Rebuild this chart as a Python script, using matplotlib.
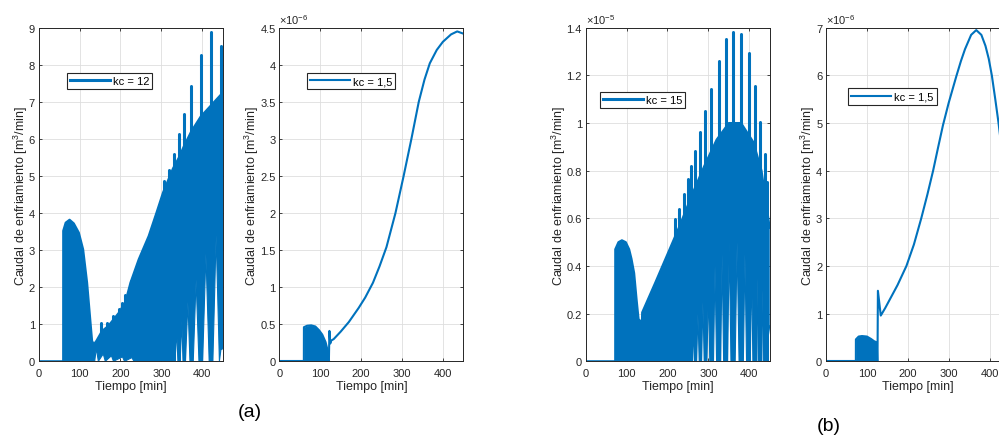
import numpy as np
import matplotlib
matplotlib.use("Agg")
import matplotlib.pyplot as plt
from matplotlib.ticker import FixedLocator, FuncFormatter

plt.rcParams['font.family'] = ['Liberation Sans', 'DejaVu Sans']
plt.rcParams['mathtext.fontset'] = 'custom'
plt.rcParams['mathtext.rm'] = 'Liberation Sans'
plt.rcParams['mathtext.it'] = 'Liberation Sans:italic'
plt.rcParams['mathtext.bf'] = 'Liberation Sans:bold'

BLUE = '#0072BD'
DARK = '#262626'

# ---------------- data ----------------
x_ticks = [0, 100, 200, 300, 400]
x_label = 'Tiempo [min]'
y_label = 'Caudal de enfriamiento [m$^3$/min]'

# (a) left : kc = 12   (units: m3/min)
a1_label = 'kc = 12'
a1_t_top = [0, 59.9, 60, 66, 75.6, 86, 98.3, 108.8, 118.5, 126.8, 130.7, 134.9, 141, 155, 170,
            196, 212, 224.4, 244.6, 269, 287.8, 304, 328.3, 343, 355, 373, 396, 421, 446, 450]
a1_top = [0, 0, 3.52, 3.74, 3.82, 3.72, 3.47, 3.02, 2.12, 1.05, 0.55, 0.46, 0.55, 0.82, 0.95,
          1.31, 1.6, 2.12, 2.75, 3.38, 4.0, 4.55, 5.2, 5.5, 5.8, 6.2, 6.6, 6.9, 7.2, 7.2]
a1_t_low = [0, 134.9, 137, 141, 146, 158, 163, 178, 183, 205, 210, 228, 233,
            333.5, 337.5, 340.5, 346, 350, 353, 359, 365, 370, 378, 385, 392,
            401, 409, 417, 426, 434, 442, 446.3, 450]
a1_low = [0, 0, 0, 0.35, 0, 0.2, 0, 0.15, 0, 0.12, 0, 0.1, 0,
          0, 0.85, 0, 0, 1.1, 0, 0, 1.6, 0, 0, 2.2, 0,
          0, 2.9, 0, 0, 3.4, 0, 0.37, 2.0]
a1_spk_t = [152.7, 167.3, 181.2, 195.9, 203.9, 212.2, 226, 306.3, 318.5, 330.7, 343, 355.1,
            373.2, 395.9, 421, 446.3]
a1_spk_peak = [1.04, 1.04, 1.22, 1.40, 1.58, 1.80, 2.16, 4.86, 5.17, 5.58, 6.12, 6.66,
               7.42, 8.27, 8.88, 8.52]
a1_spk_base = [0.6, 0.7, 0.9, 1.1, 1.3, 1.4, 1.8, 0, 0, 0, 0, 0, 0, 0, 0, 0.37]
a1_yticks = [0, 1, 2, 3, 4, 5, 6, 7, 8, 9]

# (a) right : kc = 1,5   (units: 1e-6 m3/min)
a2_label = 'kc = 1,5'
a2_scale = 1e-6
a2_hump_t = [0, 60, 60.2, 68, 78, 88, 97, 105, 113, 118, 121.2]
a2_hump = [0, 0, 0.46, 0.48, 0.485, 0.47, 0.42, 0.36, 0.26, 0.15, 0.0]
a2_curve_t = [121.2, 122.5, 124.5, 127, 133, 150, 170, 194, 210, 229, 245, 262, 284, 304,
              323, 341, 355, 368, 385, 400, 420, 435, 450]
a2_curve = [0, 0.41, 0.24, 0.28, 0.30, 0.40, 0.53, 0.72, 0.86, 1.06, 1.28, 1.54, 2.0, 2.5,
            3.0, 3.5, 3.8, 4.02, 4.2, 4.31, 4.41, 4.45, 4.42]
a2_yticks = [0, 0.5, 1, 1.5, 2, 2.5, 3, 3.5, 4, 4.5]

# (b) left : kc = 15   (units: 1e-5 m3/min)
b1_label = 'kc = 15'
b1_scale = 1e-5
b1_t_top = [0, 72.1, 72.2, 80, 88.5, 98, 106.3, 112, 118.5, 124.4, 129.3, 133, 137.5, 138,
            170, 200, 230, 260, 290, 320, 350, 380, 410, 430, 450]
b1_top = [0, 0, 0.47, 0.50, 0.508, 0.50, 0.47, 0.43, 0.37, 0.26, 0.177, 0.17, 0.17, 0.205,
          0.33, 0.45, 0.57, 0.70, 0.82, 0.93, 1.0, 1.0, 0.92, 0.8, 0.56]
b1_t_low = [0, 252.3, 254.4, 256.5, 261, 263.4, 265.8, 271.2, 274.4, 277.6, 283.4, 286.6,
            289.8, 296.5, 300, 303.5, 312.5, 316.2, 320, 330, 333.6, 337.3, 347, 351.1, 355.2,
            365.5, 370.2, 375, 385.5, 389.4, 393.3, 402.5, 405.6, 408.8, 416.5, 419, 421.5,
            428.5, 431.2, 434, 439, 440.5, 442, 446, 450]
b1_low = [0, 0, 0.1, 0, 0, 0.15, 0, 0, 0.2, 0, 0, 0.25,
          0, 0, 0.3, 0, 0, 0.4, 0, 0, 0.45, 0, 0, 0.5, 0,
          0, 0.5, 0, 0, 0.45, 0, 0, 0.4, 0, 0, 0.35, 0,
          0, 0.3, 0, 0, 0.25, 0, 0.1, 0.15]
b1_spk_t = [217.8, 228.4, 239.8, 250.3, 258.5, 268.3, 280.5, 292.7, 307.3, 325.1, 342.2,
            360, 380.5, 398.3, 413, 425, 437.3, 443]
b1_spk_peak = [0.597, 0.639, 0.702, 0.765, 0.821, 0.884, 0.961, 1.052, 1.143, 1.262, 1.353,
               1.384, 1.374, 1.293, 1.157, 1.006, 0.870, 0.751]
b1_yticks = [0, 0.2, 0.4, 0.6, 0.8, 1.0, 1.2, 1.4]

# (b) right : kc = 1,5   (units: 1e-6 m3/min)
b2_label = 'kc = 1,5'
b2_scale = 1e-6
b2_hump_t = [0, 73.1, 73.2, 80, 88, 100, 110, 118, 124, 126]
b2_hump = [0, 0, 0.46, 0.52, 0.53, 0.52, 0.47, 0.42, 0.40, 0]
b2_curve_t = [126, 127, 134, 145, 155, 175, 196.7, 215, 233, 248, 262, 274, 286, 300, 318.7,
              330, 340, 355, 367.5, 380, 390, 398, 405.6, 414, 422, 436, 450]
b2_curve = [0, 1.48, 0.96, 1.12, 1.28, 1.6, 2.0, 2.45, 3.0, 3.5, 4.0, 4.48, 4.95, 5.42, 5.98,
            6.3, 6.55, 6.85, 6.95, 6.85, 6.62, 6.35, 6.0, 5.5, 5.0, 4.0, 2.9]
b2_yticks = [0, 1, 2, 3, 4, 5, 6, 7]

# ---------------- figure ----------------
W, H = 999, 439
fig = plt.figure(figsize=(W / 100, H / 100), dpi=100)

bottom = 0.1747
height = 0.7599
width = 0.1842
lefts = [0.0387, 0.2796, 0.5863, 0.8268]
axs = [fig.add_axes([l, bottom, width, height]) for l in lefts]

LW = 1.5
FS = 8


def style(ax, yticks, scale, ymax):
    ax.set_xlim(0, 450)
    ax.set_ylim(0, ymax * scale)
    ax.xaxis.set_major_locator(FixedLocator(x_ticks))
    ax.yaxis.set_major_locator(FixedLocator([v * scale for v in yticks]))
    ax.yaxis.set_major_formatter(FuncFormatter(lambda v, p: f"{v / scale:g}"))
    ax.xaxis.set_major_formatter(FuncFormatter(lambda v, p: f"{v:g}"))
    ax.grid(True, color='#dedede', lw=0.6)
    ax.set_axisbelow(True)
    for s in ax.spines.values():
        s.set_color(DARK)
        s.set_linewidth(0.7)
    ax.tick_params(direction='in', length=2.5, width=0.6, top=True, right=True,
                   labelsize=FS, colors=DARK, labelcolor=DARK)
    ax.tick_params(axis='x', pad=4.5)
    ax.tick_params(axis='y', pad=2.7)
    ax.set_xlabel(x_label, fontsize=9, color=DARK, labelpad=2)
    ax.set_ylabel(y_label, fontsize=9, color=DARK, labelpad=-0.8)


def legend(ax, handle, label, x, y):
    lg = ax.legend([handle], [label], loc='upper left', bbox_to_anchor=(x, y),
                   fontsize=FS, frameon=True, fancybox=False, framealpha=1,
                   borderpad=0.28, handlelength=3.6, handletextpad=0.25,
                   borderaxespad=0)
    lg.get_frame().set_edgecolor(DARK)
    lg.get_frame().set_linewidth(0.8)


def dense_panel(ax, t_top, top, t_low, low, spk_t, spk_peak, spk_base, scale):
    tt = np.asarray(t_top, float)
    yt = np.asarray(top, float) * scale
    tl = np.asarray(t_low, float)
    yl = np.asarray(low, float) * scale
    ax.fill(np.r_[tt, tl[::-1]], np.r_[yt, yl[::-1]], color=BLUE, lw=0)
    ax.plot(tt, yt, color=BLUE, lw=LW)
    ax.plot(tl, yl, color=BLUE, lw=0.8)
    lc = ax.vlines(spk_t, np.asarray(spk_base) * scale, np.asarray(spk_peak) * scale,
                   color=BLUE, lw=2.2)
    lc.set_capstyle('round')
    h, = ax.plot([], [], color=BLUE, lw=2.2)
    return h


def smooth_panel(ax, hump_t, hump, curve_t, curve, scale):
    ht = np.asarray(hump_t, float)
    hy = np.asarray(hump, float) * scale
    ax.fill_between(ht, 0, hy, color=BLUE, lw=0)
    ax.plot(ht, hy, color=BLUE, lw=LW)
    ax.plot(ht, np.zeros_like(ht), color=BLUE, lw=LW)
    h, = ax.plot(curve_t, np.asarray(curve) * scale, color=BLUE, lw=LW)
    return h


def offset(ax, txt):
    ax.text(0.0, 1.006, txt, transform=ax.transAxes, ha='left', va='bottom',
            fontsize=FS, color=DARK)


# (a) left
ax = axs[0]
h = dense_panel(ax, a1_t_top, a1_top, a1_t_low, a1_low, a1_spk_t, a1_spk_peak, a1_spk_base, 1.0)
style(ax, a1_yticks, 1.0, 9)
legend(ax, h, a1_label, 0.154, 0.864)

# (a) right
ax = axs[1]
h = smooth_panel(ax, a2_hump_t, a2_hump, a2_curve_t, a2_curve, a2_scale)
style(ax, a2_yticks, a2_scale, 4.5)
legend(ax, h, a2_label, 0.149, 0.864)
offset(ax, '×10$^{-6}$')

# (b) left
ax = axs[2]
h = dense_panel(ax, b1_t_top, b1_top, b1_t_low, b1_low, b1_spk_t, b1_spk_peak,
                [0] * len(b1_spk_t), b1_scale)
style(ax, b1_yticks, b1_scale, 1.4)
legend(ax, h, b1_label, 0.078, 0.807)
offset(ax, '×10$^{-5}$')

# (b) right
ax = axs[3]
h = smooth_panel(ax, b2_hump_t, b2_hump, b2_curve_t, b2_curve, b2_scale)
style(ax, b2_yticks, b2_scale, 7)
legend(ax, h, b2_label, 0.121, 0.818)
offset(ax, '×10$^{-6}$')

fig.text(250 / W, 1 - 413 / H, '(a)', fontsize=14, color='black', ha='center', va='center')
fig.text(829 / W, 1 - 427 / H, '(b)', fontsize=14, color='black', ha='center', va='center')

fig.savefig('out.png', dpi=100)
